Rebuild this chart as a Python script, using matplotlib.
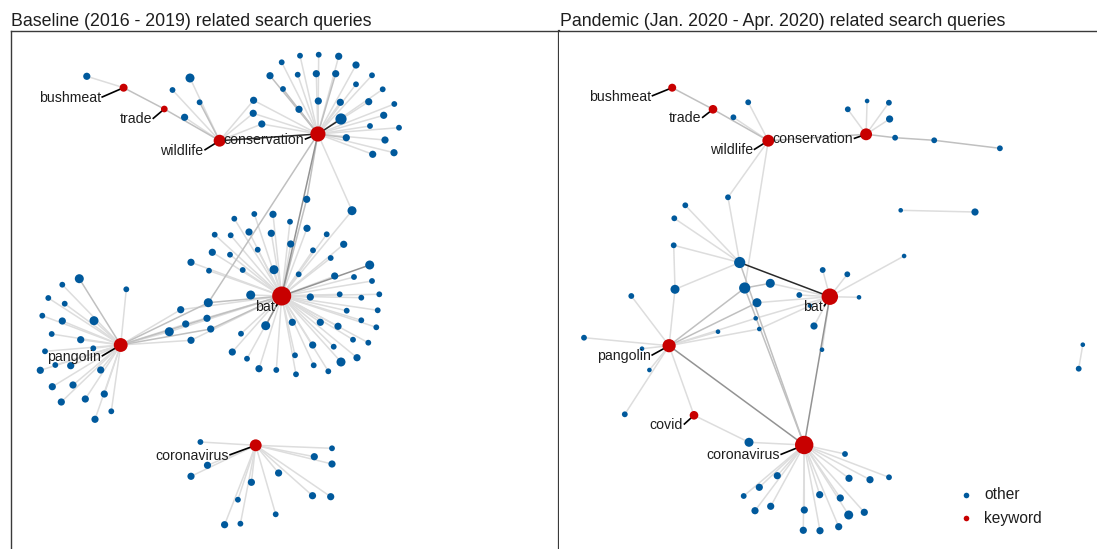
import matplotlib.pyplot as plt

plt.rcParams["font.family"] = ["Liberation Sans", "DejaVu Sans"]

BLUE = "#00599c"
RED = "#c80000"
# edge weight -> grey level
SHADES = {1: "#dddddd", 2: "#c0c0c0", 3: "#939393", 4: "#2a2a2a"}
LEAF_R = {1: 2.3, 2: 2.9, 3: 3.6, 4: 4.5, 5: 5.6}

# ---------------- baseline 2016 - 2019 ----------------
base_keywords = {
    # name: (x, y, search volume)
    "bushmeat": (123.6, 87.7, 4),
    "trade": (164.3, 109.0, 3),
    "wildlife": (219.6, 140.7, 7),
    "conservation": (317.9, 134.0, 9.5),
    "bat": (281.7, 296.0, 12.5),
    "pangolin": (120.7, 345.0, 8.5),
    "coronavirus": (255.7, 445.3, 7),
}
base_links = [
    ("bushmeat", "trade", 2),
    ("trade", "wildlife", 2),
    ("wildlife", "conservation", 4),
    ("conservation", "bat", 3),
]
base_nodes = [
    # x, y, size, linked to, edge weight
    (86.8, 76.3, 3, "bushmeat", 1),
    (190.0, 78.0, 4, "wildlife", 1),
    (172.5, 90.0, 2, "wildlife", 1),
    (199.6, 102.3, 2, "wildlife", 2),
    (184.6, 117.3, 3, "wildlife", 1),
    (253.6, 100.3, 3, "wildlife conservation", 1),
    (253.2, 113.3, 3, "wildlife conservation", 1),
    (261.8, 124.0, 3, "wildlife conservation", 1),
    (281.7, 62.3, 2, "conservation", 1),
    (300.0, 55.7, 2, "conservation", 1),
    (318.7, 54.7, 2, "conservation", 1),
    (338.7, 56.3, 3, "conservation", 1),
    (356.0, 65.0, 3, "conservation", 1),
    (270.0, 75.7, 3, "conservation", 2),
    (297.7, 74.7, 2, "conservation", 1),
    (316.3, 73.7, 3, "conservation", 1),
    (335.7, 73.7, 3, "conservation", 2),
    (372.0, 75.3, 2, "conservation", 1),
    (356.0, 84.3, 2, "conservation", 1),
    (283.0, 89.0, 2, "conservation", 2),
    (318.3, 101.0, 3, "conservation", 1),
    (340.3, 102.3, 3, "conservation", 1),
    (368.7, 101.7, 3, "conservation", 1),
    (382.7, 89.3, 2, "conservation", 1),
    (394.3, 104.0, 2, "conservation", 1),
    (299.0, 109.3, 3, "conservation", 2),
    (341.0, 119.0, 5, "conservation", 4),
    (383.7, 115.3, 3, "conservation", 1),
    (370.0, 126.0, 2, "conservation", 1),
    (399.0, 127.7, 2, "conservation", 1),
    (346.3, 137.7, 3, "conservation", 2),
    (385.0, 140.0, 3, "conservation", 1),
    (372.7, 154.3, 3, "conservation", 1),
    (394.0, 152.7, 3, "conservation", 1),
    (306.7, 199.3, 3, "conservation bat", 2),
    (352.0, 210.7, 4, "conservation bat", 1),
    (208.3, 302.7, 4, "conservation bat pangolin", 2),
    (234.3, 218.7, 2, "bat", 1),
    (254.3, 214.0, 2, "bat", 1),
    (273.0, 214.3, 3, "bat", 1),
    (290.0, 221.7, 2, "bat", 1),
    (307.0, 228.3, 3, "bat", 1),
    (214.7, 234.7, 2, "bat", 1),
    (230.7, 235.3, 2, "bat", 1),
    (249.0, 232.0, 3, "bat", 1),
    (271.3, 233.3, 3, "bat", 1),
    (326.7, 234.3, 2, "bat", 1),
    (290.7, 244.0, 3, "bat", 1),
    (343.7, 244.3, 3, "bat", 1),
    (212.3, 252.3, 3, "bat", 1),
    (230.0, 254.7, 2, "bat", 1),
    (257.7, 249.7, 2, "bat", 1),
    (313.0, 250.3, 2, "bat", 1),
    (330.7, 258.0, 2, "bat", 1),
    (191.0, 262.3, 3, "bat", 1),
    (209.0, 270.7, 2, "bat", 1),
    (242.7, 270.0, 2, "bat", 1),
    (274.0, 269.7, 4, "bat", 1),
    (298.7, 274.3, 2, "bat", 1),
    (369.7, 265.0, 4, "bat", 3),
    (334.7, 276.0, 3, "bat", 1),
    (354.0, 277.0, 2, "bat", 1),
    (372.0, 281.0, 2, "bat", 1),
    (250.7, 295.0, 4, "bat", 1),
    (310.3, 297.0, 3, "bat", 1),
    (339.7, 294.3, 2, "bat", 1),
    (361.3, 297.7, 2, "bat", 1),
    (379.3, 294.3, 2, "bat", 1),
    (346.7, 310.7, 2, "bat", 1),
    (377.7, 310.3, 2, "bat", 1),
    (265.7, 325.7, 4, "bat", 3),
    (292.3, 322.3, 3, "bat", 1),
    (320.3, 322.3, 3, "bat", 1),
    (338.0, 326.3, 3, "bat", 1),
    (361.3, 320.3, 2, "bat", 1),
    (376.3, 327.3, 2, "bat", 1),
    (241.0, 333.7, 2, "bat", 1),
    (353.0, 339.7, 2, "bat", 1),
    (368.3, 342.7, 2, "bat", 1),
    (312.7, 345.0, 3, "bat", 1),
    (333.7, 346.7, 2, "bat", 1),
    (232.3, 352.0, 3, "bat", 1),
    (295.0, 355.3, 2, "bat", 1),
    (247.0, 358.7, 2, "bat", 1),
    (313.7, 365.3, 2, "bat", 1),
    (341.0, 362.0, 4, "bat", 1),
    (357.0, 357.7, 3, "bat", 1),
    (259.0, 368.7, 3, "bat", 1),
    (276.3, 370.0, 2, "bat", 1),
    (296.0, 374.3, 2, "bat", 1),
    (328.3, 371.3, 2, "bat", 1),
    (180.7, 309.7, 3, "pangolin bat", 1),
    (207.0, 318.3, 3, "pangolin bat", 2),
    (185.7, 324.0, 3, "pangolin bat", 1),
    (210.7, 329.0, 3, "pangolin bat", 2),
    (169.3, 331.7, 4, "pangolin bat", 1),
    (191.0, 340.3, 3, "pangolin bat", 1),
    (79.3, 278.7, 4, "pangolin", 2),
    (62.3, 284.7, 2, "pangolin", 1),
    (126.3, 289.3, 2, "pangolin", 1),
    (48.3, 298.0, 2, "pangolin", 1),
    (64.7, 303.7, 2, "pangolin", 1),
    (42.3, 315.7, 2, "pangolin", 1),
    (62.3, 321.0, 3, "pangolin", 1),
    (94.0, 320.7, 4, "pangolin", 1),
    (51.7, 334.0, 2, "pangolin", 1),
    (80.7, 339.7, 3, "pangolin", 1),
    (45.0, 351.3, 2, "pangolin", 1),
    (93.3, 348.3, 2, "pangolin", 1),
    (40.3, 370.3, 3, "pangolin", 1),
    (55.3, 365.0, 2, "pangolin", 1),
    (70.7, 365.7, 3, "pangolin", 1),
    (100.7, 370.0, 3, "pangolin", 1),
    (52.3, 386.7, 3, "pangolin", 1),
    (73.0, 385.0, 3, "pangolin", 1),
    (61.3, 402.0, 3, "pangolin", 1),
    (85.3, 399.0, 3, "pangolin", 1),
    (104.3, 394.0, 3, "pangolin", 1),
    (111.3, 411.3, 2, "pangolin", 1),
    (95.0, 419.3, 3, "pangolin", 1),
    (200.4, 442.0, 2, "coronavirus", 1),
    (332.0, 448.3, 2, "coronavirus", 1),
    (314.3, 456.7, 3, "coronavirus", 1),
    (332.0, 464.0, 3, "coronavirus", 1),
    (207.5, 465.3, 3, "coronavirus", 1),
    (191.0, 476.3, 3, "coronavirus", 1),
    (278.6, 473.0, 3, "coronavirus", 1),
    (251.4, 482.3, 3, "coronavirus", 1),
    (312.5, 495.7, 3, "coronavirus", 1),
    (330.7, 496.7, 3, "coronavirus", 1),
    (237.9, 499.7, 2, "coronavirus", 1),
    (275.7, 514.3, 2, "coronavirus", 1),
    (224.6, 524.7, 3, "coronavirus", 1),
    (240.4, 523.7, 2, "coronavirus", 1),
]

# ---------------- pandemic Jan. 2020 - Apr. 2020 ----------------
pan_keywords = {
    "bushmeat": (672.2, 87.7, 4),
    "trade": (713.0, 109.3, 4.5),
    "wildlife": (768.3, 140.7, 7),
    "conservation": (866.1, 134.3, 7),
    "bat": (829.8, 296.7, 10.5),
    "pangolin": (669.1, 345.7, 8),
    "covid": (694.0, 415.3, 4.5),
    "coronavirus": (804.2, 445.0, 12),
}
# non-keyword queries that link onwards to other queries
pan_hubs = {
    "a": (739.7, 262.5, 5),
    "b": (744.7, 288.0, 5),
    "c": (675.0, 289.3, 4),
    "d": (770.3, 283.3, 4),
    "e": (757.0, 302.7, 4),
    "f": (749.0, 442.3, 4),
    "g": (728.0, 197.3, 2),
    "h": (895.1, 137.7, 2),
    "i": (934.2, 140.3, 2),
    "j": (900.7, 210.3, 1),
    "k": (1082.8, 344.7, 1),
}
pan_links = [
    ("bushmeat", "trade", 2),
    ("trade", "wildlife", 2),
    ("wildlife", "conservation", 2),
    ("pangolin", "coronavirus", 3),
    ("bat", "coronavirus", 3),
    ("pangolin", "covid", 1),
    ("covid", "f", 1),
    ("f", "coronavirus", 1),
    ("wildlife", "g", 1),
    ("g", "a", 1),
    ("wildlife", "b", 1),
    ("a", "bat", 4),
    ("a", "c", 1),
    ("c", "pangolin", 1),
    ("a", "coronavirus", 2),
    ("b", "coronavirus", 2),
    ("b", "pangolin", 2),
    ("b", "d", 2),
    ("d", "bat", 1),
    ("e", "pangolin", 2),
    ("e", "bat", 1),
    ("conservation", "h", 2),
    ("h", "i", 2),
]
pan_nodes = [
    (748.2, 102.3, 2, "wildlife", 1),
    (733.4, 117.3, 2, "wildlife", 1),
    (847.8, 109.3, 2, "conservation", 1),
    (867.1, 101.0, 1, "conservation", 1),
    (888.9, 102.7, 2, "conservation", 1),
    (889.6, 119.0, 3, "conservation", 1),
    (999.9, 148.3, 2, "i", 2),
    (975.0, 212.0, 3, "j", 1),
    (1078.7, 368.7, 2, "k", 1),
    (685.3, 205.3, 2, "a", 1),
    (674.3, 218.3, 2, "a", 1),
    (673.7, 245.3, 2, "a c", 1),
    (631.3, 296.0, 2, "pangolin", 1),
    (584.0, 337.7, 2, "pangolin", 1),
    (642.0, 348.7, 1, "pangolin", 1),
    (649.4, 370.0, 1, "pangolin", 1),
    (624.8, 414.3, 2, "pangolin", 1),
    (718.0, 331.7, 1, "pangolin", 1),
    (755.7, 318.3, 1, "pangolin bat", 1),
    (759.3, 329.0, 1, "pangolin bat", 1),
    (799.3, 295.0, 2, "bat", 1),
    (810.0, 305.7, 1, "bat", 1),
    (822.7, 270.0, 2, "bat", 1),
    (847.3, 274.3, 2, "bat", 1),
    (859.0, 297.3, 1, "bat", 1),
    (904.1, 256.0, 1, "bat", 1),
    (814.0, 326.0, 3, "bat", 1),
    (822.0, 349.7, 1, "bat", 1),
    (845.0, 454.0, 2, "coronavirus", 1),
    (777.3, 475.7, 3, "coronavirus", 1),
    (849.0, 478.3, 3, "coronavirus", 1),
    (870.0, 479.7, 3, "coronavirus", 1),
    (889.0, 477.3, 2, "coronavirus", 1),
    (759.3, 487.3, 3, "coronavirus", 1),
    (743.7, 496.0, 2, "coronavirus", 1),
    (819.7, 494.7, 3, "coronavirus", 1),
    (840.3, 498.0, 3, "coronavirus", 1),
    (755.0, 510.7, 3, "coronavirus", 1),
    (770.7, 506.3, 3, "coronavirus", 1),
    (804.3, 510.0, 3, "coronavirus", 1),
    (848.7, 515.0, 4, "coronavirus", 1),
    (864.3, 512.3, 3, "coronavirus", 1),
    (803.3, 530.3, 3, "coronavirus", 1),
    (820.0, 530.7, 3, "coronavirus", 1),
    (838.7, 526.7, 3, "coronavirus", 1),
]

# where each keyword label ends (right edge of text, text centre line)
base_label_at = {
    "bushmeat": (100.7, 98.0), "trade": (151.8, 119.3), "wildlife": (203.6, 150.7),
    "conservation": (304.0, 140.0), "bat": (275.0, 306.7), "pangolin": (101.0, 356.7),
    "coronavirus": (228.6, 455.7),
}
pan_label_at = {
    "bushmeat": (651.0, 96.7), "trade": (701.2, 118.3), "wildlife": (753.0, 150.3),
    "conservation": (853.0, 139.3), "bat": (822.9, 306.7), "pangolin": (650.7, 356.0),
    "covid": (682.9, 425.0), "coronavirus": (779.7, 455.3),
}


def area(r):
    # radius in pixels -> scatter area in points^2 (100 dpi)
    return (1.44 * r) ** 2


def draw_panel(ax, keywords, hubs, links, nodes, label_at):
    pos = {k: v[:2] for k, v in keywords.items()}
    pos.update({k: v[:2] for k, v in hubs.items()})

    for a, b, w in links:
        (x0, y0), (x1, y1) = pos[a], pos[b]
        ax.plot([x0, x1], [y0, y1], color=SHADES[w], lw=1.1, zorder=1 + w * 0.1,
                solid_capstyle="round")
    for x, y, s, targets, w in nodes:
        for t in targets.split():
            tx, ty = pos[t]
            ax.plot([x, tx], [y, ty], color=SHADES[w], lw=1.1, zorder=1 + w * 0.1,
                    solid_capstyle="round")

    ax.scatter([n[0] for n in nodes], [n[1] for n in nodes],
               s=[area(LEAF_R[n[2]]) for n in nodes], color=BLUE, lw=0, zorder=3)
    ax.scatter([v[0] for v in hubs.values()], [v[1] for v in hubs.values()],
               s=[area(LEAF_R[v[2]]) for v in hubs.values()], color=BLUE, lw=0, zorder=3)

    for name, (lx, ly) in label_at.items():
        kx, ky = keywords[name][:2]
        ax.plot([lx + 1.5, kx], [ly - 1, ky], color="black", lw=1.2, zorder=2.5)
        ax.text(lx, ly, name, ha="right", va="center", fontsize=10.2,
                color="#1e1e1e", zorder=5)

    ax.scatter([v[0] for v in keywords.values()], [v[1] for v in keywords.values()],
               s=[area(1.4 + 0.65 * v[2]) for v in keywords.values()],
               color=RED, lw=0, zorder=4)


W, H = 1097, 549
fig = plt.figure(figsize=(W / 100, H / 100), dpi=100)

bottom = 565
ax1 = fig.add_axes([11 / W, 1 - bottom / H, (558.5 - 11) / W, (bottom - 31) / H])
ax1.set_xlim(11, 558.5)
ax1.set_ylim(bottom, 31)
ax2 = fig.add_axes([558.5 / W, 1 - bottom / H, (1115 - 558.5) / W, (bottom - 31) / H])
ax2.set_xlim(558.5, 1115)
ax2.set_ylim(bottom, 31)

for ax in (ax1, ax2):
    ax.set_xticks([])
    ax.set_yticks([])
    for sp in ax.spines.values():
        sp.set_color("#3a3a3a")
        sp.set_linewidth(1.0)
ax1.spines["right"].set_linewidth(1.6)
ax2.spines["left"].set_visible(False)

draw_panel(ax1, base_keywords, {}, base_links, base_nodes, base_label_at)
draw_panel(ax2, pan_keywords, pan_hubs, pan_links, pan_nodes, pan_label_at)

fig.text(11 / W, 1 - 26 / H, "Baseline (2016 - 2019) related search queries",
         fontsize=12.8, color="#1e1e1e", ha="left", va="baseline")
fig.text(560 / W, 1 - 26 / H, "Pandemic (Jan. 2020 - Apr. 2020) related search queries",
         fontsize=12.8, color="#1e1e1e", ha="left", va="baseline")

# legend
for label, colour, y in [("other", BLUE, 494.5), ("keyword", RED, 518)]:
    ax2.scatter([965.5], [y], s=area(2.8), color=colour, lw=0, zorder=5)
    ax2.text(984, y, label, fontsize=11.2, va="center", ha="left", color="#1e1e1e")

fig.savefig("out.png", dpi=100)
